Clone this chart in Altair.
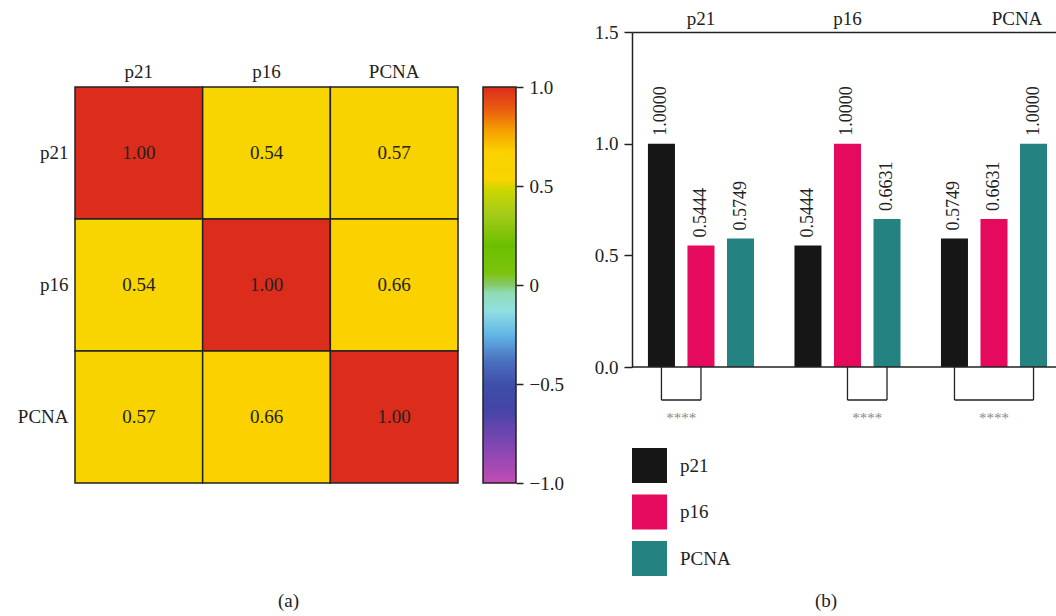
import altair as alt
import pandas as pd

# ---------------- data ----------------
genes = ["p21", "p16", "PCNA"]
# correlation matrix (rows x cols)
corr_p21 = [1.0000, 0.5444, 0.5749]
corr_p16 = [0.5444, 1.0000, 0.6631]
corr_pcna = [0.5749, 0.6631, 1.0000]
corr_rows = [corr_p21, corr_p16, corr_pcna]

series_colors = ["#161616", "#e60a5f", "#248381"]

# significance brackets: (group, series a, series b, label)
br_group = ["p21", "p16", "PCNA"]
br_a = ["p21", "p16", "p21"]
br_b = ["p16", "PCNA", "PCNA"]
br_label = ["****", "****", "****"]

# colour scale stops (value -> colour)
stop_vals = [-1.0, -0.8, -0.62, -0.5, -0.38, -0.25, -0.13, -0.04, 0.0, 0.06, 0.2, 0.36, 0.48,
             0.53, 0.67, 0.78, 0.88, 1.0]
stop_cols = ["#c24cb4", "#7c46b2", "#4245a5", "#3f4fa8", "#4a72c0", "#62b6e6", "#92dfe2",
             "#8fdcb4", "#86c96c", "#7cc40c", "#6cbf00", "#a6cc1a", "#cdd600",
             "#f8d400", "#fbd200", "#f5a000", "#eb6010", "#dc2c1c"]
cbar_ticks = [-1.0, -0.5, 0.0, 0.5, 1.0]
bar_ticks = [0.0, 0.5, 1.0, 1.5]

FONT = "Liberation Serif"
INK = "#222222"

# ---------------- tables ----------------
heat_df = pd.DataFrame(
    [{"row": r, "col": c, "value": corr_rows[i][j]}
     for i, r in enumerate(genes) for j, c in enumerate(genes)]
)
bar_df = pd.DataFrame(
    [{"group": g, "series": s, "value": corr_rows[i][j]}
     for i, g in enumerate(genes) for j, s in enumerate(genes)]
)
br_pts = []
for k in range(len(br_group)):
    br_pts.append({"id": k, "group": br_group[k], "series": br_a[k]})
    br_pts.append({"id": k, "group": br_group[k], "series": br_b[k]})
br_df = pd.DataFrame(br_pts)

star_rows = []
for k in range(len(br_group)):
    ia, ib = genes.index(br_a[k]), genes.index(br_b[k])
    mid = (ia + ib) / 2
    half = mid != int(mid)
    star_rows.append({"group": br_group[k], "series": genes[int(mid)],
                      "half": bool(half), "label": br_label[k]})
star_df = pd.DataFrame(star_rows)

# ---------------- heatmap + colour bar (one layered panel) ----------------
HW = 383          # heatmap width
CELLS_H = 396     # height of the 3x3 grid
TOP_GAP = 55      # grid starts lower than the bar chart plot
PANEL_H = CELLS_H + TOP_GAP
pad_outer = TOP_GAP / (CELLS_H / 3) / 2

color_scale = alt.Scale(domain=stop_vals, range=stop_cols, type="linear")
hbase = alt.Chart(heat_df).encode(
    x=alt.X("col:N", sort=genes, title=None,
            scale=alt.Scale(paddingInner=0, paddingOuter=0),
            axis=alt.Axis(orient="top", labelAngle=0, ticks=False, domain=False,
                          offset=-TOP_GAP, labelPadding=6, labelFont=FONT,
                          labelFontSize=19, labelColor=INK)),
    y=alt.Y("row:N", sort=genes, title=None,
            scale=alt.Scale(paddingInner=0, paddingOuter=pad_outer, align=1),
            axis=alt.Axis(orient="left", ticks=False, domain=False, labelPadding=7,
                          labelFont=FONT, labelFontSize=19, labelColor=INK)),
)
heat_rect = hbase.mark_rect(stroke=INK, strokeWidth=1.5).encode(
    color=alt.Color("value:Q", scale=color_scale, legend=None))
heat_text = hbase.mark_text(font=FONT, fontSize=19, color=INK).encode(
    text=alt.Text("value:Q", format=".2f"))
heat_cells = alt.layer(heat_rect, heat_text)

grad = alt.LinearGradient(
    gradient="linear", x1=0, x2=0, y1=1, y2=0,
    stops=[alt.GradientStop(color=c, offset=(v + 1) / 2) for v, c in zip(stop_vals, stop_cols)],
)
CB_X, CB_W = HW + 25, 33
cbar = alt.Chart(pd.DataFrame({"lo": [stop_vals[0]], "hi": [stop_vals[-1]]})).mark_rect(
    fill=grad, stroke=INK, strokeWidth=1.5
).encode(
    y=alt.Y("lo:Q", scale=alt.Scale(domain=[-1, 1], range=[PANEL_H, TOP_GAP], nice=False),
            title=None,
            axis=alt.Axis(orient="right", offset=CB_X + CB_W - HW, values=cbar_ticks,
                          tickSize=7, tickWidth=1.5, tickColor=INK, labelPadding=6,
                          domain=False, grid=False, labelFont=FONT, labelFontSize=19,
                          labelColor=INK,
                          labelExpr="datum.value == 0 ? '0' : format(datum.value, '.1f')")),
    y2="hi:Q",
    x=alt.value(CB_X),
    x2=alt.value(CB_X + CB_W),
)

heat = alt.layer(heat_cells, cbar).resolve_scale(y="independent").properties(
    width=HW, height=PANEL_H,
    title=alt.TitleParams("(a)", orient="bottom", frame="group", offset=99, dx=22,
                          font=FONT, fontSize=19, fontWeight="normal", color=INK),
)

# ---------------- bar chart ----------------
BW, BH = 424, 335
xenc = alt.X("group:N", sort=genes, title=None,
             scale=alt.Scale(domain=genes, paddingInner=0.276, paddingOuter=0.085, align=0.64),
             axis=alt.Axis(orient="top", labelAngle=0, ticks=False, domainColor=INK,
                           domainWidth=1.5, labelPadding=4, labelFont=FONT,
                           labelFontSize=19, labelColor=INK,
                           labelOffset={"condition": {"test": "datum.value === 'PCNA'",
                                                      "value": 23}, "value": 0}))
xoff = alt.XOffset("series:N",
                   scale=alt.Scale(domain=genes, paddingInner=0.3165, paddingOuter=0))
yscale = alt.Scale(domain=[0, 1.5], nice=False)

bars = alt.Chart(bar_df).mark_bar().encode(
    x=xenc, xOffset=xoff,
    y=alt.Y("value:Q", scale=yscale, title=None,
            axis=alt.Axis(values=bar_ticks, format=".1f", tickSize=8, tickWidth=1.5,
                          tickColor=INK, domainColor=INK, domainWidth=1.5,
                          labelPadding=6, grid=False, labelFont=FONT,
                          labelFontSize=19, labelColor=INK)),
    color=alt.Color("series:N",
                    scale=alt.Scale(domain=genes, range=series_colors),
                    legend=alt.Legend(orient="none", legendX=0, legendY=416, title=None,
                                      symbolType="square", symbolSize=1225,
                                      symbolStrokeWidth=0, labelFont=FONT,
                                      labelFontSize=19, labelColor=INK, labelOffset=13,
                                      rowPadding=11.5, padding=0)),
)
vals = alt.Chart(bar_df).mark_text(
    angle=270, align="left", baseline="middle", dx=8, font=FONT, fontSize=18, color=INK
).encode(x=xenc, xOffset=xoff, y=alt.Y("value:Q", scale=yscale),
         text=alt.Text("value:Q", format=".4f"))

baseline = alt.Chart(pd.DataFrame({"z": [0]})).mark_rule(
    color=INK, strokeWidth=1.5).encode(y=alt.Y("z:Q", scale=yscale))

br_h = alt.Chart(br_df).mark_line(color=INK, strokeWidth=1.3, yOffset=33).encode(
    x=xenc, xOffset=xoff, y=alt.Y("zero:Q", scale=yscale), detail="id:N"
).transform_calculate(zero="0")
br_v = alt.Chart(br_df).mark_rule(color=INK, strokeWidth=1.3, y2Offset=33).encode(
    x=xenc, xOffset=xoff, y=alt.Y("zero:Q", scale=yscale), y2="zero:Q"
).transform_calculate(zero="0")

stars_half = alt.Chart(star_df).transform_filter("datum.half").transform_calculate(
    zero="0").mark_text(
    font=FONT, fontSize=15, color="#888888", baseline="alphabetic", yOffset=56, dx=19.8
).encode(x=xenc, xOffset=xoff, y=alt.Y("zero:Q", scale=yscale), text="label:N")
stars_mid = alt.Chart(star_df).transform_filter("!datum.half").transform_calculate(
    zero="0").mark_text(
    font=FONT, fontSize=15, color="#888888", baseline="alphabetic", yOffset=56
).encode(x=xenc, xOffset=xoff, y=alt.Y("zero:Q", scale=yscale), text="label:N")

barchart = alt.layer(bars, vals, baseline, br_h, br_v, stars_half, stars_mid).properties(
    width=BW, height=BH,
    title=alt.TitleParams("(b)", orient="bottom", frame="group", offset=16, dx=-18,
                          font=FONT, fontSize=19, fontWeight="normal", color=INK),
)

chart = alt.hconcat(heat, barchart, spacing=632 - 75 - HW, bounds="flush").properties(
    autosize=alt.AutoSizeParams(type="none"),
    padding={"left": 75, "top": 32, "right": 981, "bottom": 584},
).configure(background="white").configure_view(stroke=None)

chart.save("out.html", embed_options={"renderer": "svg", "actions": False})
